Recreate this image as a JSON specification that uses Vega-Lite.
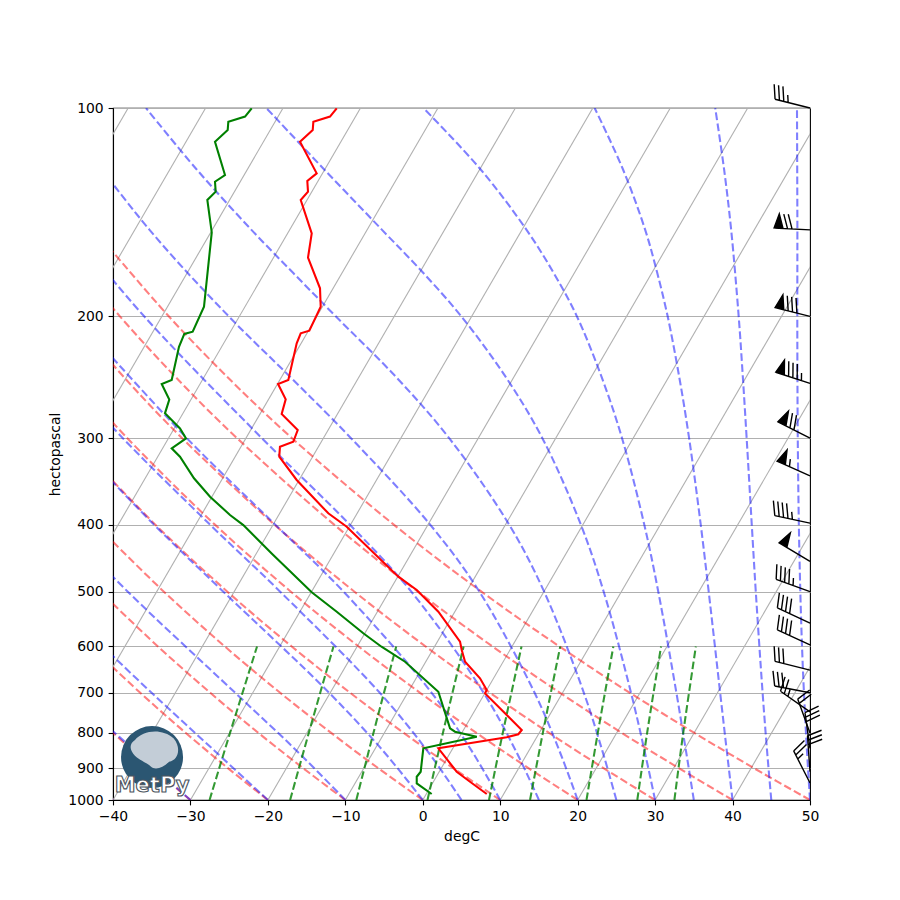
{
 "$schema": "https://vega.github.io/schema/vega-lite/v6.json",
 "width": 697, "height": 692,
 "autosize": {"type": "none"},
 "padding": {"left": 113, "top": 108, "right": 90, "bottom": 100},
 "background": "white",
 "config": {
  "font": "DejaVu Sans",
  "view": {"stroke": "black", "strokeWidth": 1.1},
  "axis": {"labelFont": "DejaVu Sans", "labelFontSize": 13.9, "labelColor": "black", "titleFont": "DejaVu Sans", "titleFontSize": 13.9, "titleFontWeight": "normal", "titleColor": "black", "tickColor": "black", "tickSize": 4.9, "tickWidth": 1.1, "domainColor": "black", "domainWidth": 1.1, "labelPadding": 4.9, "titlePadding": 5.5, "gridColor": "#b0b0b0", "gridWidth": 1.1, "gridOpacity": 1, "labelFlush": false, "labelOverlap": false}
 },
 "datasets": {
  "iso": [
   {"x": -90, "p": 1000, "x2": -38.04, "p2": 100}, {"x": -80, "p": 1000, "x2": -28.04, "p2": 100},
   {"x": -70, "p": 1000, "x2": -18.04, "p2": 100}, {"x": -60, "p": 1000, "x2": -8.04, "p2": 100},
   {"x": -50, "p": 1000, "x2": 1.96, "p2": 100}, {"x": -40, "p": 1000, "x2": 11.96, "p2": 100},
   {"x": -30, "p": 1000, "x2": 21.96, "p2": 100}, {"x": -20, "p": 1000, "x2": 31.96, "p2": 100},
   {"x": -10, "p": 1000, "x2": 41.96, "p2": 100}, {"x": 0, "p": 1000, "x2": 51.96, "p2": 100},
   {"x": 10, "p": 1000, "x2": 61.96, "p2": 100}, {"x": 20, "p": 1000, "x2": 71.96, "p2": 100},
   {"x": 30, "p": 1000, "x2": 81.96, "p2": 100}, {"x": 40, "p": 1000, "x2": 91.96, "p2": 100},
   {"x": 50, "p": 1000, "x2": 101.96, "p2": 100}
  ],
  "dry": [
   {"id": "d50", "p": 1000, "x": 50}, {"id": "d50", "p": 900, "x": 42.8}, {"id": "d50", "p": 800, "x": 35.08}, {"id": "d50", "p": 700, "x": 26.74}, {"id": "d50", "p": 600, "x": 17.65}, {"id": "d50", "p": 500, "x": 7.58}, {"id": "d50", "p": 400, "x": -3.75}, {"id": "d50", "p": 300, "x": -16.89}, {"id": "d50", "p": 250, "x": -24.4}, {"id": "d50", "p": 200, "x": -32.8}, {"id": "d50", "p": 150, "x": -42.41},
   {"id": "d40", "p": 1000, "x": 40}, {"id": "d40", "p": 900, "x": 33.1}, {"id": "d40", "p": 800, "x": 25.7}, {"id": "d40", "p": 700, "x": 17.72}, {"id": "d40", "p": 600, "x": 9.01}, {"id": "d40", "p": 500, "x": -0.62}, {"id": "d40", "p": 400, "x": -11.45}, {"id": "d40", "p": 300, "x": -23.98}, {"id": "d40", "p": 250, "x": -31.13}, {"id": "d40", "p": 200, "x": -39.11}, {"id": "d40", "p": 150, "x": -48.23},
   {"id": "d30", "p": 1000, "x": 30}, {"id": "d30", "p": 900, "x": 23.39}, {"id": "d30", "p": 800, "x": 16.31}, {"id": "d30", "p": 700, "x": 8.68}, {"id": "d30", "p": 600, "x": 0.37}, {"id": "d30", "p": 500, "x": -8.82}, {"id": "d30", "p": 400, "x": -19.15}, {"id": "d30", "p": 300, "x": -31.07}, {"id": "d30", "p": 250, "x": -37.86}, {"id": "d30", "p": 200, "x": -45.43},
   {"id": "d20", "p": 1000, "x": 20}, {"id": "d20", "p": 900, "x": 13.69}, {"id": "d20", "p": 800, "x": 6.93}, {"id": "d20", "p": 700, "x": -0.35}, {"id": "d20", "p": 600, "x": -8.28}, {"id": "d20", "p": 500, "x": -17.03}, {"id": "d20", "p": 400, "x": -26.84}, {"id": "d20", "p": 300, "x": -38.15}, {"id": "d20", "p": 250, "x": -44.59},
   {"id": "d10", "p": 1000, "x": 10}, {"id": "d10", "p": 900, "x": 3.98}, {"id": "d10", "p": 800, "x": -2.46}, {"id": "d10", "p": 700, "x": -9.38}, {"id": "d10", "p": 600, "x": -16.92}, {"id": "d10", "p": 500, "x": -25.23}, {"id": "d10", "p": 400, "x": -34.54}, {"id": "d10", "p": 300, "x": -45.24},
   {"id": "d0", "p": 1000, "x": 0}, {"id": "d0", "p": 900, "x": -5.72}, {"id": "d0", "p": 800, "x": -11.83}, {"id": "d0", "p": 700, "x": -18.41}, {"id": "d0", "p": 600, "x": -25.56}, {"id": "d0", "p": 500, "x": -33.43}, {"id": "d0", "p": 400, "x": -42.23},
   {"id": "dm10", "p": 1000, "x": -10}, {"id": "dm10", "p": 900, "x": -15.42}, {"id": "dm10", "p": 800, "x": -21.22}, {"id": "dm10", "p": 700, "x": -27.44}, {"id": "dm10", "p": 600, "x": -34.2}, {"id": "dm10", "p": 500, "x": -41.63},
   {"id": "dm20", "p": 1000, "x": -20}, {"id": "dm20", "p": 900, "x": -25.13}, {"id": "dm20", "p": 800, "x": -30.6}, {"id": "dm20", "p": 700, "x": -36.48}, {"id": "dm20", "p": 600, "x": -42.84},
   {"id": "dm30", "p": 1000, "x": -30}, {"id": "dm30", "p": 900, "x": -34.83}, {"id": "dm30", "p": 800, "x": -39.98}, {"id": "dm30", "p": 700, "x": -45.51},
   {"id": "dm40", "p": 1000, "x": -40}, {"id": "dm40", "p": 900, "x": -44.53}
  ],
  "moist": [
   {"id": "m50", "p": 1000, "x": 50}, {"id": "m50", "p": 850, "x": 49.61}, {"id": "m50", "p": 700, "x": 49.22}, {"id": "m50", "p": 600, "x": 48.97}, {"id": "m50", "p": 500, "x": 48.75}, {"id": "m50", "p": 400, "x": 48.56}, {"id": "m50", "p": 300, "x": 48.42}, {"id": "m50", "p": 250, "x": 48.38}, {"id": "m50", "p": 200, "x": 48.36}, {"id": "m50", "p": 150, "x": 48.37}, {"id": "m50", "p": 100, "x": 48.32},
   {"id": "m45", "p": 1000, "x": 45}, {"id": "m45", "p": 850, "x": 44.46}, {"id": "m45", "p": 700, "x": 43.88}, {"id": "m45", "p": 500, "x": 43.0}, {"id": "m45", "p": 400, "x": 42.48}, {"id": "m45", "p": 300, "x": 41.82}, {"id": "m45", "p": 244.9, "x": 41.33}, {"id": "m45", "p": 200, "x": 40.79}, {"id": "m45", "p": 150, "x": 39.82}, {"id": "m45", "p": 122.5, "x": 38.9}, {"id": "m45", "p": 100, "x": 37.76},
   {"id": "m40", "p": 1000, "x": 40}, {"id": "m40", "p": 850, "x": 39.26}, {"id": "m40", "p": 700, "x": 38.4}, {"id": "m40", "p": 500, "x": 36.92}, {"id": "m40", "p": 400, "x": 35.89}, {"id": "m40", "p": 300, "x": 34.39}, {"id": "m40", "p": 244.9, "x": 33.12}, {"id": "m40", "p": 200, "x": 31.62}, {"id": "m40", "p": 173.2, "x": 30.28}, {"id": "m40", "p": 150, "x": 28.72}, {"id": "m40", "p": 122.5, "x": 25.83}, {"id": "m40", "p": 100, "x": 22.19},
   {"id": "m35", "p": 1000, "x": 35}, {"id": "m35", "p": 850, "x": 33.99}, {"id": "m35", "p": 700, "x": 32.75}, {"id": "m35", "p": 500, "x": 30.41}, {"id": "m35", "p": 400, "x": 28.6}, {"id": "m35", "p": 300, "x": 25.73}, {"id": "m35", "p": 244.9, "x": 23.1}, {"id": "m35", "p": 200, "x": 19.9}, {"id": "m35", "p": 173.2, "x": 16.91}, {"id": "m35", "p": 150, "x": 13.4}, {"id": "m35", "p": 122.5, "x": 7.42}, {"id": "m35", "p": 100, "x": 0.08},
   {"id": "m30", "p": 1000, "x": 30}, {"id": "m30", "p": 850, "x": 28.64}, {"id": "m30", "p": 700, "x": 26.89}, {"id": "m30", "p": 500, "x": 23.36}, {"id": "m30", "p": 400, "x": 20.41}, {"id": "m30", "p": 300, "x": 15.44}, {"id": "m30", "p": 244.9, "x": 10.73}, {"id": "m30", "p": 200, "x": 4.97}, {"id": "m30", "p": 173.2, "x": 0.08}, {"id": "m30", "p": 150, "x": -5.26}, {"id": "m30", "p": 122.5, "x": -12.79}, {"id": "m30", "p": 100, "x": -20.2},
   {"id": "m25", "p": 1000, "x": 25}, {"id": "m25", "p": 850, "x": 23.2}, {"id": "m25", "p": 700, "x": 20.8}, {"id": "m25", "p": 500, "x": 15.67}, {"id": "m25", "p": 400, "x": 11.15}, {"id": "m25", "p": 300, "x": 3.41}, {"id": "m25", "p": 244.9, "x": -3.43}, {"id": "m25", "p": 200, "x": -11.24}, {"id": "m25", "p": 173.2, "x": -16.72}, {"id": "m25", "p": 150, "x": -22.12}, {"id": "m25", "p": 122.5, "x": -29.25}, {"id": "m25", "p": 100, "x": -35.74},
   {"id": "m20", "p": 1000, "x": 20}, {"id": "m20", "p": 850, "x": 17.66}, {"id": "m20", "p": 700, "x": 14.44}, {"id": "m20", "p": 500, "x": 7.31}, {"id": "m20", "p": 400, "x": 0.95}, {"id": "m20", "p": 300, "x": -9.27}, {"id": "m20", "p": 244.9, "x": -17.08}, {"id": "m20", "p": 200, "x": -25.06}, {"id": "m20", "p": 150, "x": -35.28}, {"id": "m20", "p": 100, "x": -47.47},
   {"id": "m15", "p": 1000, "x": 15}, {"id": "m15", "p": 850, "x": 12.03}, {"id": "m15", "p": 700, "x": 7.86}, {"id": "m15", "p": 500, "x": -1.48}, {"id": "m15", "p": 400, "x": -9.42}, {"id": "m15", "p": 300, "x": -20.78}, {"id": "m15", "p": 200, "x": -35.98}, {"id": "m15", "p": 150, "x": -45.34},
   {"id": "m10", "p": 1000, "x": 10}, {"id": "m10", "p": 850, "x": 6.34}, {"id": "m10", "p": 700, "x": 1.15}, {"id": "m10", "p": 500, "x": -10.23}, {"id": "m10", "p": 400, "x": -19.05}, {"id": "m10", "p": 300, "x": -30.47}, {"id": "m10", "p": 200, "x": -44.89},
   {"id": "m5", "p": 1000, "x": 5}, {"id": "m5", "p": 850, "x": 0.61}, {"id": "m5", "p": 700, "x": -5.55}, {"id": "m5", "p": 500, "x": -18.41}, {"id": "m5", "p": 400, "x": -27.47}, {"id": "m5", "p": 300, "x": -38.73}, {"id": "m5", "p": 250, "x": -45.14},
   {"id": "m0", "p": 1000, "x": 0}, {"id": "m0", "p": 850, "x": -5.09}, {"id": "m0", "p": 700, "x": -12.09}, {"id": "m0", "p": 500, "x": -25.75}, {"id": "m0", "p": 400, "x": -34.71}, {"id": "m0", "p": 300, "x": -45.4},
   {"id": "mm10", "p": 1000, "x": -10}, {"id": "mm10", "p": 850, "x": -16.23}, {"id": "mm10", "p": 700, "x": -24.22}, {"id": "mm10", "p": 500, "x": -38.09}, {"id": "mm10", "p": 400, "x": -46.5},
   {"id": "mm20", "p": 1000, "x": -20}, {"id": "mm20", "p": 850, "x": -26.83}, {"id": "mm20", "p": 700, "x": -35.02}, {"id": "mm20", "p": 600, "x": -41.3},
   {"id": "mm30", "p": 1000, "x": -30}, {"id": "mm30", "p": 850, "x": -37.1}, {"id": "mm30", "p": 750, "x": -42.6},
   {"id": "mm40", "p": 1000, "x": -40}, {"id": "mm40", "p": 900, "x": -44.3}
  ],
  "mix": [
   {"id": "w0.4", "p": 1000, "x": -27.53}, {"id": "w0.4", "p": 800, "x": -24.89}, {"id": "w0.4", "p": 600, "x": -21.4},
   {"id": "w1", "p": 1000, "x": -17.13}, {"id": "w1", "p": 800, "x": -14.72}, {"id": "w1", "p": 600, "x": -11.53},
   {"id": "w2", "p": 1000, "x": -8.58}, {"id": "w2", "p": 800, "x": -6.37}, {"id": "w2", "p": 600, "x": -3.43},
   {"id": "w4", "p": 1000, "x": 0.61}, {"id": "w4", "p": 800, "x": 2.6}, {"id": "w4", "p": 600, "x": 5.27},
   {"id": "w7", "p": 1000, "x": 8.55}, {"id": "w7", "p": 800, "x": 10.33}, {"id": "w7", "p": 600, "x": 12.75},
   {"id": "w10", "p": 1000, "x": 13.85}, {"id": "w10", "p": 800, "x": 15.5}, {"id": "w10", "p": 600, "x": 17.75},
   {"id": "w16", "p": 1000, "x": 21.14}, {"id": "w16", "p": 800, "x": 22.6}, {"id": "w16", "p": 600, "x": 24.61},
   {"id": "w24", "p": 1000, "x": 27.7}, {"id": "w24", "p": 800, "x": 28.97}, {"id": "w24", "p": 600, "x": 30.77},
   {"id": "w32", "p": 1000, "x": 32.49}, {"id": "w32", "p": 800, "x": 33.63}, {"id": "w32", "p": 600, "x": 35.26}
  ],
  "temp": [
   {"p": 100.1, "x": -11.11}, {"p": 102.9, "x": -11.98}, {"p": 104.7, "x": -14.13}, {"p": 107.6, "x": -14.21}, {"p": 111.9, "x": -15.85}, {"p": 124.3, "x": -13.7}, {"p": 127.5, "x": -14.91}, {"p": 132.1, "x": -14.82}, {"p": 135.8, "x": -15.76}, {"p": 151.8, "x": -14.34}, {"p": 164.5, "x": -14.82}, {"p": 182.2, "x": -13.27}, {"p": 193.7, "x": -13.18}, {"p": 209.8, "x": -14.65}, {"p": 211.6, "x": -15.76}, {"p": 218.8, "x": -16.28}, {"p": 247.2, "x": -17.36}, {"p": 250.5, "x": -18.69}, {"p": 263.6, "x": -17.7}, {"p": 276.8, "x": -18.22}, {"p": 292.0, "x": -16.15}, {"p": 303.6, "x": -16.72}, {"p": 308.7, "x": -18.44}, {"p": 319.1, "x": -18.53}, {"p": 344.8, "x": -16.28}, {"p": 385.2, "x": -12.2}, {"p": 402.8, "x": -9.82}, {"p": 475.7, "x": -3.16}, {"p": 497.2, "x": -0.78}, {"p": 534.4, "x": 2.01}, {"p": 590.4, "x": 4.81}, {"p": 607.0, "x": 5.03}, {"p": 631.2, "x": 5.46}, {"p": 667.1, "x": 7.39}, {"p": 693.6, "x": 8.26}, {"p": 701.3, "x": 8.04}, {"p": 792.1, "x": 12.78}, {"p": 803.5, "x": 12.34}, {"p": 811.6, "x": 10.84}, {"p": 842.0, "x": 2.01}, {"p": 910.2, "x": 4.38}, {"p": 941.0, "x": 6.1}, {"p": 980.2, "x": 8.26}
  ],
  "dew": [
   {"p": 100.1, "x": -22.09}, {"p": 102.9, "x": -22.95}, {"p": 104.7, "x": -25.11}, {"p": 107.6, "x": -25.19}, {"p": 111.9, "x": -26.83}, {"p": 125.0, "x": -25.54}, {"p": 127.8, "x": -26.83}, {"p": 132.1, "x": -26.74}, {"p": 135.8, "x": -27.82}, {"p": 151.3, "x": -27.25}, {"p": 193.7, "x": -28.25}, {"p": 210.5, "x": -29.71}, {"p": 212.1, "x": -30.79}, {"p": 221.3, "x": -31.48}, {"p": 247.2, "x": -32.42}, {"p": 250.5, "x": -33.71}, {"p": 263.8, "x": -32.73}, {"p": 276.2, "x": -33.29}, {"p": 290.5, "x": -31.35}, {"p": 300.2, "x": -30.57}, {"p": 310.3, "x": -32.42}, {"p": 319.1, "x": -31.35}, {"p": 342.8, "x": -29.54}, {"p": 364.5, "x": -27.47}, {"p": 387.4, "x": -24.89}, {"p": 400.6, "x": -23.17}, {"p": 440.2, "x": -19.51}, {"p": 501.0, "x": -14.34}, {"p": 534.4, "x": -11.11}, {"p": 574.1, "x": -7.68}, {"p": 600.5, "x": -5.33}, {"p": 631.2, "x": -2.29}, {"p": 697.6, "x": 2.01}, {"p": 787.6, "x": 3.52}, {"p": 796.6, "x": 4.16}, {"p": 810.0, "x": 6.97}, {"p": 842.0, "x": 0.07}, {"p": 910.2, "x": -0.27}, {"p": 925.5, "x": -0.78}, {"p": 946.1, "x": -0.78}, {"p": 980.2, "x": 1.15}
  ],
  "barbs": [
   {"p": 100, "x": 50, "speed": 35, "dir": 284},
   {"p": 150, "x": 50, "speed": 70, "dir": 273},
   {"p": 200, "x": 50, "speed": 80, "dir": 284},
   {"p": 250, "x": 50, "speed": 85, "dir": 288},
   {"p": 300, "x": 50, "speed": 70, "dir": 297},
   {"p": 340, "x": 50, "speed": 55, "dir": 294},
   {"p": 398, "x": 50, "speed": 45, "dir": 282},
   {"p": 452, "x": 50, "speed": 50, "dir": 301},
   {"p": 500, "x": 50, "speed": 45, "dir": 290},
   {"p": 555, "x": 50, "speed": 40, "dir": 295},
   {"p": 597, "x": 50, "speed": 40, "dir": 295},
   {"p": 649, "x": 50, "speed": 30, "dir": 284},
   {"p": 700, "x": 50, "speed": 30, "dir": 281},
   {"p": 746, "x": 50, "speed": 25, "dir": 305},
   {"p": 800, "x": 50, "speed": 20, "dir": 340},
   {"p": 842, "x": 50, "speed": 30, "dir": 352},
   {"p": 910, "x": 50, "speed": 30, "dir": 356},
   {"p": 945, "x": 50, "speed": 25, "dir": 333}
  ]
 },
 "encoding": {
  "x": {"field": "x", "type": "quantitative", "scale": {"domain": [-40, 50], "nice": false, "zero": false}, "axis": {"title": "degC", "values": [-40, -30, -20, -10, 0, 10, 20, 30, 40, 50], "grid": false}},
  "y": {"field": "p", "type": "quantitative", "scale": {"type": "log", "domain": [100, 1000], "reverse": true, "nice": false}, "axis": {"title": "hectopascal", "values": [100, 200, 300, 400, 500, 600, 700, 800, 900, 1000], "format": "d", "grid": true}}
 },
 "layer": [
  {"data": {"name": "iso"}, "mark": {"type": "rule", "color": "#b0b0b0", "strokeWidth": 1.1, "clip": true}, "encoding": {"x2": {"field": "x2"}, "y2": {"field": "p2"}}},
  {"data": {"name": "dry"}, "mark": {"type": "line", "color": "#ff0000", "opacity": 0.5, "strokeWidth": 2.08, "strokeDash": [7.7, 3.3], "clip": true, "interpolate": "catmull-rom"}, "encoding": {"detail": {"field": "id", "type": "nominal"}, "order": {"field": "p", "type": "quantitative", "sort": "descending"}}},
  {"data": {"name": "moist"}, "mark": {"type": "line", "color": "#0000ff", "opacity": 0.5, "strokeWidth": 2.08, "strokeDash": [7.7, 3.3], "clip": true, "interpolate": "catmull-rom"}, "encoding": {"detail": {"field": "id", "type": "nominal"}, "order": {"field": "p", "type": "quantitative", "sort": "descending"}}},
  {"data": {"name": "mix"}, "mark": {"type": "line", "color": "#008000", "opacity": 0.8, "strokeWidth": 2.08, "strokeDash": [7.7, 3.3], "clip": true, "interpolate": "catmull-rom"}, "encoding": {"detail": {"field": "id", "type": "nominal"}, "order": {"field": "p", "type": "quantitative", "sort": "descending"}}},
  {"data": {"name": "temp"}, "mark": {"type": "line", "color": "#ff0000", "strokeWidth": 2.08, "clip": true}, "encoding": {"order": {"field": "p", "type": "quantitative", "sort": "descending"}}},
  {"data": {"name": "dew"}, "mark": {"type": "line", "color": "#008000", "strokeWidth": 2.08, "clip": true}, "encoding": {"order": {"field": "p", "type": "quantitative", "sort": "descending"}}},
  {"data": {"name": "barbs"}, "mark": {"type": "point", "filled": true, "fill": "black", "stroke": "black", "strokeWidth": 1.4, "opacity": 1, "size": 5184},
   "encoding": {
    "shape": {"field": "speed", "type": "nominal", "legend": null, "scale": {"domain": [5, 10, 15, 20, 25, 30, 35, 40, 45, 50, 55, 60, 65, 70, 75, 80, 85, 90],
     "range": [
      "M0,0L0,-1M0,-0.8125L0.2,-0.875",
      "M0,0L0,-1M0,-1L0.4,-1.125",
      "M0,0L0,-1M0,-1L0.4,-1.125M0,-0.875L0.2,-0.9375",
      "M0,0L0,-1M0,-1L0.4,-1.125M0,-0.875L0.4,-1",
      "M0,0L0,-1M0,-1L0.4,-1.125M0,-0.875L0.4,-1M0,-0.75L0.2,-0.8125",
      "M0,0L0,-1M0,-1L0.4,-1.125M0,-0.875L0.4,-1M0,-0.75L0.4,-0.875",
      "M0,0L0,-1M0,-1L0.4,-1.125M0,-0.875L0.4,-1M0,-0.75L0.4,-0.875M0,-0.625L0.2,-0.6875",
      "M0,0L0,-1M0,-1L0.4,-1.125M0,-0.875L0.4,-1M0,-0.75L0.4,-0.875M0,-0.625L0.4,-0.75",
      "M0,0L0,-1M0,-1L0.4,-1.125M0,-0.875L0.4,-1M0,-0.75L0.4,-0.875M0,-0.625L0.4,-0.75M0,-0.5L0.2,-0.5625",
      "M0,0L0,-1M0,-1L0.4,-0.875L0,-0.75Z",
      "M0,0L0,-1M0,-1L0.4,-0.875L0,-0.75ZM0,-0.625L0.2,-0.6875",
      "M0,0L0,-1M0,-1L0.4,-0.875L0,-0.75ZM0,-0.625L0.4,-0.75",
      "M0,0L0,-1M0,-1L0.4,-0.875L0,-0.75ZM0,-0.625L0.4,-0.75M0,-0.5L0.2,-0.5625",
      "M0,0L0,-1M0,-1L0.4,-0.875L0,-0.75ZM0,-0.625L0.4,-0.75M0,-0.5L0.4,-0.625",
      "M0,0L0,-1M0,-1L0.4,-0.875L0,-0.75ZM0,-0.625L0.4,-0.75M0,-0.5L0.4,-0.625M0,-0.375L0.2,-0.4375",
      "M0,0L0,-1M0,-1L0.4,-0.875L0,-0.75ZM0,-0.625L0.4,-0.75M0,-0.5L0.4,-0.625M0,-0.375L0.4,-0.5",
      "M0,0L0,-1M0,-1L0.4,-0.875L0,-0.75ZM0,-0.625L0.4,-0.75M0,-0.5L0.4,-0.625M0,-0.375L0.4,-0.5M0,-0.25L0.2,-0.3125",
      "M0,0L0,-1M0,-1L0.4,-0.875L0,-0.75ZM0,-0.625L0.4,-0.75M0,-0.5L0.4,-0.625M0,-0.375L0.4,-0.5M0,-0.25L0.4,-0.375"
     ]}},
    "angle": {"field": "dir", "type": "quantitative", "scale": null}
   }},
  {"data": {"values": [{"p": 866.8, "x": -34.96}]}, "mark": {"type": "point", "shape": "circle", "filled": true, "fill": "#2b5672", "opacity": 1, "size": 3844}},
  {"data": {"values": [{"p": 866.8, "x": -34.96}]}, "mark": {"type": "point", "shape": "M-0.55,-0.55C-0.3,-0.85,0.3,-0.95,0.7,-0.6C0.95,-0.3,0.85,0.1,0.55,0.15C0.35,0.35,0.1,0.45,-0.05,0.3C-0.2,0.15,-0.45,0.1,-0.6,-0.1C-0.75,-0.3,-0.7,-0.45,-0.55,-0.55Z", "filled": true, "fill": "#c3cdd7", "opacity": 1, "size": 3844}},
  {"data": {"values": [{"p": 954.5, "x": -34.96, "label": "MetPy"}]}, "mark": {"type": "text", "font": "DejaVu Sans", "fontSize": 21, "fontWeight": "bold", "fill": "white", "stroke": "#4d5560", "strokeWidth": 1.1, "baseline": "middle", "align": "center"}, "encoding": {"text": {"field": "label"}}}
 ]
}
